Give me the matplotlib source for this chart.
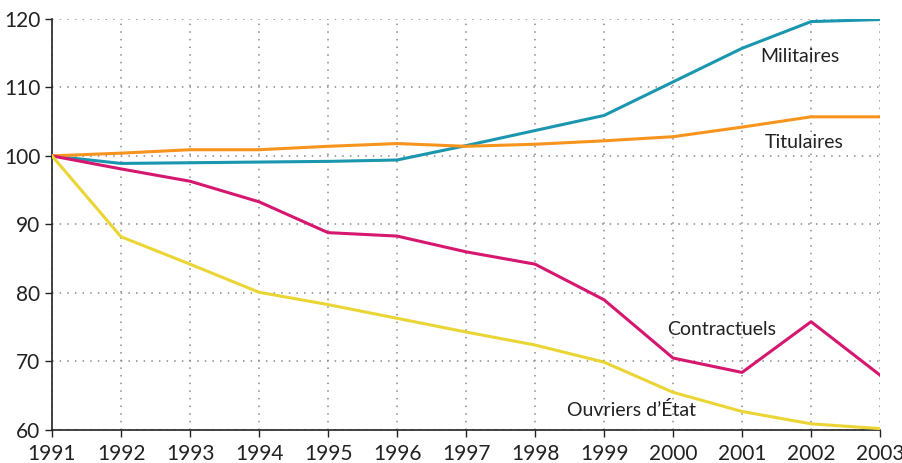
import matplotlib
matplotlib.use("Agg")
import matplotlib.pyplot as plt

years = list(range(1991, 2004))
militaires = [100, 98.9, 99.0, 99.1, 99.2, 99.4, 101.5, 103.7, 105.9, 110.8, 115.7, 119.6, 119.9]
titulaires = [100, 100.4, 100.9, 100.9, 101.4, 101.8, 101.4, 101.7, 102.2, 102.8, 104.2, 105.7, 105.7]
contractuels = [100, 98.1, 96.3, 93.3, 88.8, 88.3, 86.0, 84.2, 79.0, 70.5, 68.4, 75.8, 68.0]
ouvriers = [100, 88.2, 84.2, 80.1, 78.3, 76.3, 74.3, 72.4, 69.9, 65.5, 62.7, 60.9, 60.2]
yticks = [60, 70, 80, 90, 100, 110, 120]

plt.rcParams['font.family'] = ['Lato', 'DejaVu Sans']

fig = plt.figure(figsize=(9.03, 4.63), dpi=100)
ax = fig.add_axes([0.0576, 0.0713, 0.917, 0.888])

lw = 2.2
ax.plot(years, militaires, color='#1a97ae', lw=lw, zorder=3)
ax.plot(years, titulaires, color='#f7941d', lw=lw, zorder=3)
ax.plot(years, contractuels, color='#d6176f', lw=lw, zorder=3)
ax.plot(years, ouvriers, color='#ead535', lw=lw, zorder=3)

ax.set_xlim(1991, 2003)
ax.set_ylim(60, 120)
ax.set_xticks(years)
ax.set_yticks(yticks)
ax.tick_params(labelsize=15, colors='#222222', length=5, width=1)
ax.tick_params(axis='x', pad=5)
ax.grid(True, linestyle=(0, (1, 4)), color='#8a8a8a', lw=1.1, zorder=0)
for s in ['top', 'right']:
    ax.spines[s].set_visible(False)
for s in ['left', 'bottom']:
    ax.spines[s].set_color('#222222')
    ax.spines[s].set_linewidth(1.2)

tkw = dict(fontsize=14, color='#222222', ha='center', va='center')
ax.text(2001.84, 114.5, 'Militaires', **tkw)
ax.text(2001.9, 102.0, 'Titulaires', **tkw)
ax.text(2000.7, 74.6, 'Contractuels', **tkw)
ax.text(1999.4, 62.9, 'Ouvriers d\u2019\u00c9tat', **tkw)

fig.savefig('out.png', dpi=100)
